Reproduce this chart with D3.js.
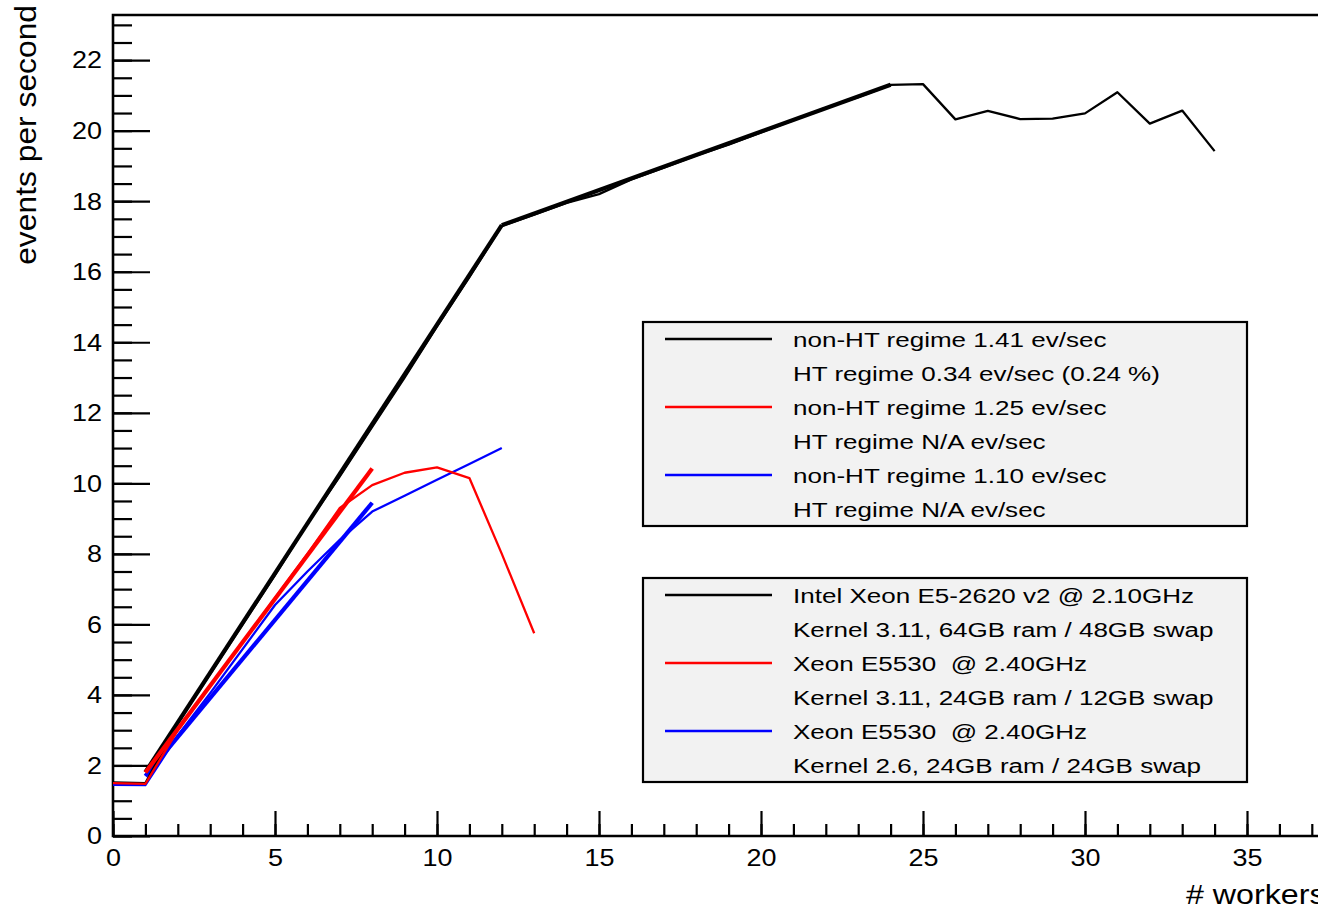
<!DOCTYPE html>
<html>
<head>
<meta charset="utf-8">
<script src="https://cdn.jsdelivr.net/npm/d3@7"></script>
<style>
  body { margin: 0; background: #fff; }
  svg { display: block; font-family: "Liberation Sans", Arial, sans-serif; }
</style>
</head>
<body>
<script>
// measured data: events per second vs number of workers
const blackWorkers = d3.range(0, 35);
const blackRate = [1.52, 1.50, 3.2, 4.6, 6.0, 7.4, 8.85, 10.2, 11.6, 13.0, 14.45, 15.85, 17.3,
  17.62, 17.95, 18.2, 18.62, 18.95, 19.3, 19.6, 19.95, 20.3, 20.65, 20.95, 21.3,
  21.32, 20.32, 20.56, 20.33, 20.34, 20.49, 21.09, 20.2, 20.57, 19.42];

const redWorkers = d3.range(0, 14);
const redRate = [1.5, 1.48, 3.0, 4.25, 5.5, 6.75, 8.0, 9.3, 9.95, 10.3, 10.45, 10.15, 8.0, 5.75];

const blueWorkers = d3.range(0, 13);
const blueRate = [1.45, 1.44, 2.85, 4.05, 5.3, 6.55, 7.5, 8.4, 9.2, 9.65, 10.1, 10.55, 11.0];

// linear fits (start/end in data units)
const blackFitNonHT = [[1, 1.81], [12, 17.32]];
const blackFitHT = [[12, 17.32], [24, 21.3]];
const redFitNonHT = [[1, 1.8], [8, 10.42]];
const blueFitNonHT = [[1, 1.7], [8, 9.45]];

const legendFits = ["non-HT regime 1.41 ev/sec", "HT regime 0.34 ev/sec (0.24 %)",
  "non-HT regime 1.25 ev/sec", "HT regime N/A ev/sec",
  "non-HT regime 1.10 ev/sec", "HT regime N/A ev/sec"];
const legendMachines = ["Intel Xeon E5-2620 v2 @ 2.10GHz", "Kernel 3.11, 64GB ram / 48GB swap",
  "Xeon E5530  @ 2.40GHz", "Kernel 3.11, 24GB ram / 12GB swap",
  "Xeon E5530  @ 2.40GHz", "Kernel 2.6, 24GB ram / 24GB swap"];
const legendColors = ["#000000", null, "#ff0000", null, "#0000ff", null];

const xMajor = d3.range(0, 40, 5);
const xMinor = d3.range(0, 38, 1);
const yMajor = d3.range(0, 24, 2);
const yMinor = d3.range(0, 23.5, 0.5);

const width = 1318, height = 908;

const svg = d3.select("body").append("svg")
  .attr("width", width)
  .attr("height", height);

const x = d3.scaleLinear().domain([0, 37.5]).range([113, 113 + 37.5 * 32.4]);
const y = d3.scaleLinear().domain([0, 23.28]).range([836, 15]);

// x axis: minor then major ticks, pointing inward
svg.append("g")
  .attr("transform", `translate(0,${y(0)})`)
  .call(d3.axisBottom(x).tickValues(xMinor).tickSize(-12).tickSizeOuter(0).tickFormat(""))
  .call(g => g.select(".domain").remove());

const xAxis = svg.append("g")
  .attr("transform", `translate(0,${y(0)})`)
  .call(d3.axisBottom(x).tickValues(xMajor).tickSize(-25).tickSizeOuter(0).tickPadding(13))
  .call(g => g.select(".domain").remove());
xAxis.selectAll("text")
  .attr("font-size", 24.5)
  .attr("font-family", "Liberation Sans, Arial, sans-serif")
  .attr("fill", "#000")
  .attr("transform", "scale(1.1,1)");

// y axis
svg.append("g")
  .attr("transform", `translate(${x(0)},0)`)
  .call(d3.axisLeft(y).tickValues(yMinor).tickSize(-19).tickSizeOuter(0).tickFormat(""))
  .call(g => g.select(".domain").remove());

const yAxis = svg.append("g")
  .attr("transform", `translate(${x(0)},0)`)
  .call(d3.axisLeft(y).tickValues(yMajor).tickSize(-37).tickSizeOuter(0).tickPadding(10))
  .call(g => g.select(".domain").remove());
yAxis.selectAll("text")
  .attr("font-size", 24.5)
  .attr("font-family", "Liberation Sans, Arial, sans-serif")
  .attr("fill", "#000")
  .attr("transform", "scale(1.1,1)");

svg.selectAll(".tick line").attr("stroke", "#000").attr("stroke-width", 2.2);

// frame
svg.append("path")
  .attr("d", `M${x(37.5)},${y(23.28)}H${x(0)}V${y(0)}H${x(37.5)}`)
  .attr("fill", "none")
  .attr("stroke", "#000")
  .attr("stroke-width", 2.6);

// lines
const line = d3.line().x(d => x(d[0])).y(d => y(d[1]));

function drawSeries(xs, ys, color) {
  svg.append("path")
    .datum(xs.map((w, i) => [w, ys[i]]))
    .attr("d", line)
    .attr("fill", "none")
    .attr("stroke", color)
    .attr("stroke-width", 2.3)
    .attr("stroke-linejoin", "round");
}
function drawFit(pts, color) {
  svg.append("path")
    .datum(pts)
    .attr("d", line)
    .attr("fill", "none")
    .attr("stroke", color)
    .attr("stroke-width", 4.2);
}

drawSeries(blueWorkers, blueRate, "#0000ff");
drawFit(blueFitNonHT, "#0000ff");
drawSeries(blackWorkers, blackRate, "#000000");
drawFit(blackFitNonHT, "#000000");
drawFit(blackFitHT, "#000000");
drawSeries(redWorkers, redRate, "#ff0000");
drawFit(redFitNonHT, "#ff0000");

// axis titles
svg.append("text")
  .attr("transform", "translate(36,5) rotate(-90) scale(1.06,1)")
  .attr("text-anchor", "end")
  .attr("font-size", 30)
  .text("events per second");

svg.append("text")
  .attr("transform", "translate(1186,904) scale(1.15,1)")
  .attr("font-size", 28)
  .text("# workers");

// legends
function drawLegend(top, labels) {
  const lg = svg.append("g").attr("transform", `translate(643,${top})`);
  lg.append("rect")
    .attr("width", 604)
    .attr("height", 204)
    .attr("fill", "#f2f2f2")
    .attr("stroke", "#000")
    .attr("stroke-width", 2.2);
  labels.forEach((t, i) => {
    const cy = 17 + i * 34;
    if (legendColors[i]) {
      lg.append("line")
        .attr("x1", 22).attr("x2", 129)
        .attr("y1", cy).attr("y2", cy)
        .attr("stroke", legendColors[i])
        .attr("stroke-width", 2.4);
    }
    lg.append("text")
      .attr("transform", `translate(150,${cy + 7.5}) scale(1.24,1)`)
      .attr("font-size", 21)
      .style("white-space", "pre")
      .text(t);
  });
}
drawLegend(322, legendFits);
drawLegend(578, legendMachines);
</script>
</body>
</html>
